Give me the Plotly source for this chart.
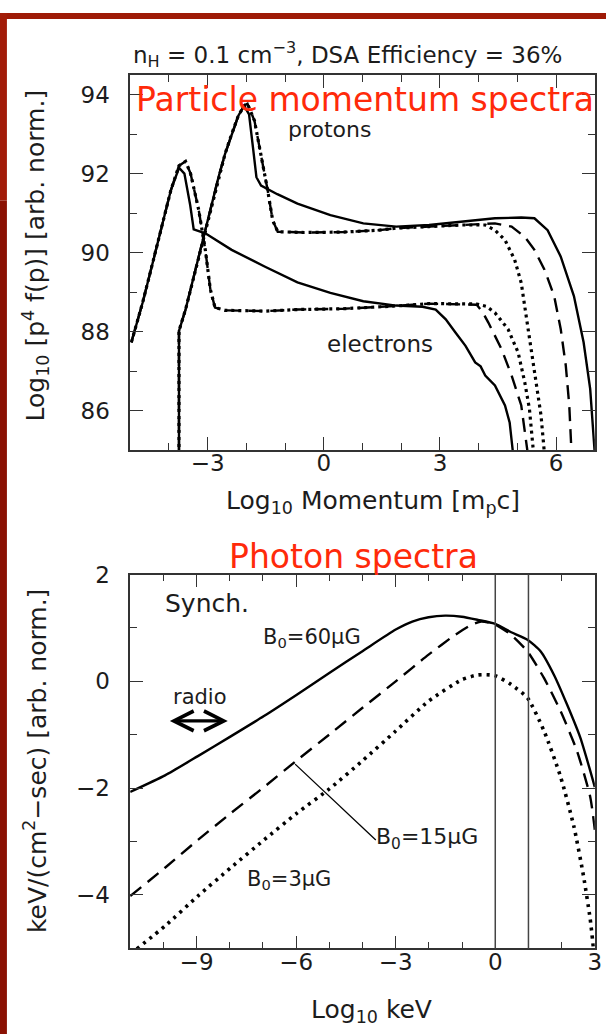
import plotly.graph_objects as go

W, H = 613, 1034
FONT = "DejaVu Sans"
INK = "#1c1c1c"
RED = "#FF2A0A"

# ---------------- particle momentum spectra ----------------
# x: log10 momentum [m_p c], y: log10 p^4 f(p) [arb. norm.]
e_solid_x = [-4.97, -4.68, -4.42, -4.17, -3.95, -3.74, -3.60, -3.45, -3.36, -3.06, -2.38,
             -1.53, -0.68, 0.17, 1.02, 1.87, 2.55, 2.89, 3.15, 3.40, 3.66, 3.91, 4.05,
             4.17, 4.42, 4.68, 4.80, 4.89]
e_solid_y = [87.73, 88.73, 89.74, 90.74, 91.58, 92.15, 92.00, 91.20, 90.59, 90.49, 90.07,
             89.65, 89.25, 88.98, 88.77, 88.66, 88.63, 88.56, 88.31, 87.98, 87.64, 87.22, 87.12,
             86.89, 86.64, 86.13, 85.70, 84.90]

e_dash_x = [-4.97, -4.68, -4.42, -4.17, -3.95, -3.74, -3.57, -3.44, -3.23, -3.06, -2.93,
            -2.81, -2.55, -1.50, -0.68, 0.50, 1.44, 1.87, 2.72, 3.57, 3.95, 4.10, 4.25,
            4.59, 4.85, 5.10, 5.27]
e_dash_y = [87.73, 88.73, 89.74, 90.74, 91.58, 92.20, 92.31, 92.00, 91.08, 90.07, 89.07,
            88.61, 88.54, 88.52, 88.56, 88.58, 88.62, 88.65, 88.71, 88.70, 88.68, 88.50, 88.23,
            87.56, 86.89, 86.13, 84.90]

e_dot_x = [-4.97, -4.68, -4.42, -4.17, -3.95, -3.74, -3.57, -3.44, -3.23, -3.06, -2.93,
           -2.81, -2.55, -1.50, -0.68, 0.50, 1.44, 1.87, 2.72, 3.57, 3.95, 4.20, 4.42,
           4.76, 5.02, 5.19, 5.31, 5.42]
e_dot_y = [87.73, 88.73, 89.74, 90.74, 91.58, 92.20, 92.31, 92.00, 91.08, 90.07, 89.07,
           88.61, 88.54, 88.52, 88.56, 88.58, 88.62, 88.65, 88.71, 88.70, 88.70, 88.64, 88.48,
           88.06, 87.47, 86.72, 86.05, 84.90]

p_solid_x = [-3.74, -3.74, -3.57, -3.40, -3.23, -3.06, -2.89, -2.72, -2.55, -2.38, -2.21,
             -2.06, -1.93, -1.83, -1.74, -1.62, -1.20, -0.68, 0.17, 1.02, 1.87, 2.72,
             3.57, 4.42, 5.10, 5.44, 5.78, 6.12, 6.46, 6.71, 6.88, 7.00]
p_solid_y = [84.90, 88.02, 88.56, 89.23, 89.90, 90.57, 91.24, 91.91, 92.50, 93.00, 93.46,
             93.72, 93.50, 92.67, 91.91, 91.70, 91.48, 91.24, 90.95, 90.74, 90.66, 90.70,
             90.78, 90.87, 90.89, 90.87, 90.57, 89.90, 88.90, 87.73, 86.55, 84.90]

p_dash_x = [-3.74, -3.74, -3.57, -3.40, -3.23, -3.06, -2.89, -2.72, -2.55, -2.38, -2.21,
            -2.06, -1.97, -1.79, -1.62, -1.45, -1.32, -1.19, -0.50, 0.50, 1.44, 1.87,
            2.72, 3.57, 4.08, 4.42, 4.85, 5.19, 5.44, 5.70, 5.95, 6.12, 6.25, 6.34, 6.40]
p_dash_y = [84.90, 88.02, 88.56, 89.23, 89.90, 90.57, 91.24, 91.91, 92.50, 93.00, 93.46,
            93.72, 93.77, 93.34, 92.50, 91.58, 90.82, 90.53, 90.51, 90.52, 90.57, 90.62,
            90.66, 90.70, 90.74, 90.74, 90.66, 90.40, 90.07, 89.57, 88.90, 88.06, 87.14, 86.13, 84.90]

p_dot_x = [-3.74, -3.74, -3.57, -3.40, -3.23, -3.06, -2.89, -2.72, -2.55, -2.38, -2.21,
           -2.06, -1.97, -1.79, -1.62, -1.45, -1.32, -1.19, -0.50, 0.50, 1.44, 1.87,
           2.72, 3.57, 4.17, 4.42, 4.68, 4.93, 5.10, 5.23, 5.36, 5.48, 5.61, 5.70]
p_dot_y = [84.90, 88.02, 88.56, 89.23, 89.90, 90.57, 91.24, 91.91, 92.50, 93.00, 93.46,
           93.72, 93.77, 93.34, 92.50, 91.58, 90.82, 90.53, 90.51, 90.52, 90.57, 90.62,
           90.66, 90.70, 90.70, 90.57, 90.32, 89.82, 89.23, 88.39, 87.56, 86.72, 85.88, 84.90]

# ---------------- synchrotron photon spectra ----------------
# x: log10 photon energy [keV], y: log10 keV/(cm^2 sec) [arb. norm.]
syn60_x = [-11.0, -9.95, -8.96, -7.97, -6.97, -5.98, -4.99, -3.99, -3.00, -2.50, -2.01,
           -1.51, -1.01, -0.52, -0.02, 0.48, 0.97, 1.37, 1.77, 2.16, 2.56, 2.86, 3.00]
syn60_y = [-2.07, -1.76, -1.40, -1.03, -0.65, -0.25, 0.16, 0.57, 0.97, 1.12, 1.20,
           1.23, 1.21, 1.15, 1.08, 0.92, 0.78, 0.56, 0.12, -0.43, -1.05, -1.67, -1.98]

syn15_x = [-11.0, -9.95, -8.96, -7.97, -6.97, -5.98, -4.99, -3.99, -3.00, -2.01, -1.21,
           -0.71, -0.42, -0.02, 0.48, 0.97, 1.47, 1.97, 2.46, 2.86, 3.00]
syn15_y = [-4.02, -3.49, -2.97, -2.47, -1.98, -1.48, -0.99, -0.49, 0.00, 0.50, 0.87,
           1.06, 1.12, 1.07, 0.87, 0.56, 0.06, -0.56, -1.30, -2.16, -2.78]

syn3_x = [-10.80, -9.95, -8.96, -7.97, -6.97, -5.98, -4.99, -3.99, -3.00, -2.01, -1.01,
          -0.52, -0.02, 0.48, 0.97, 1.47, 1.97, 2.37, 2.66, 2.86, 2.96]
syn3_y = [-5.01, -4.58, -4.02, -3.49, -2.97, -2.47, -2.01, -1.48, -0.93, -0.37, 0.03,
          0.12, 0.11, -0.06, -0.31, -0.93, -1.79, -2.72, -3.65, -4.45, -5.01]

# X-ray band edges (log10 keV)
xray_band = [0, 1]

# plot boxes in pixels
X0, X1 = 131.7, 601.7
TOP_Y0, TOP_Y1 = 62.7, 442.7
BOT_Y0, BOT_Y1 = 568.7, 947.3


def fx(p):
    return p / W


def fy(p):
    return 1 - p / H


fig = go.Figure()

SOLID = dict(color="black", width=2.4)
DASH = dict(color="black", width=2.4, dash="14px,8px")
DOT = dict(color="black", width=3.2, dash="3px,4px")

for xs, ys, ln in [(e_solid_x, e_solid_y, SOLID), (e_dash_x, e_dash_y, DASH), (e_dot_x, e_dot_y, DOT),
                   (p_solid_x, p_solid_y, SOLID), (p_dash_x, p_dash_y, DASH), (p_dot_x, p_dot_y, DOT)]:
    fig.add_trace(go.Scatter(x=xs, y=ys, mode="lines", line=ln, xaxis="x", yaxis="y",
                             hoverinfo="skip"))

for xs, ys, ln in [(syn60_x, syn60_y, SOLID), (syn15_x, syn15_y, DASH),
                   (syn3_x, syn3_y, dict(color="black", width=3.6, dash="3px,5px"))]:
    fig.add_trace(go.Scatter(x=xs, y=ys, mode="lines",
                             line=dict(ln, shape="spline", smoothing=0.6),
                             xaxis="x2", yaxis="y2", hoverinfo="skip"))

tickfont = dict(family=FONT, size=23, color=INK)


def axis(rng, dtick, domain, anchor, standoff):
    return dict(
        range=rng, domain=domain, anchor=anchor, dtick=dtick, tick0=0,
        showline=True, linecolor="#333", linewidth=1.5, mirror="allticks",
        ticks="inside", ticklen=13, tickwidth=1.3, tickcolor="#333",
        showgrid=False, zeroline=False, tickfont=tickfont, ticklabelstandoff=standoff,
        minor=dict(ticks="inside", ticklen=7, tickwidth=1.3, tickcolor="#333",
                   dtick=1, tick0=0, showgrid=False),
    )


fig.update_layout(
    width=W, height=H, margin=dict(l=0, r=0, t=0, b=0),
    paper_bgcolor="white", plot_bgcolor="white", showlegend=False,
    xaxis=axis([-5, 7], 3, [fx(X0), fx(X1)], "y", -8),
    yaxis=axis([85, 94.5], 2, [fy(TOP_Y1), fy(TOP_Y0)], "x", 14),
    xaxis2=axis([-11, 3], 3, [fx(X0), fx(X1)], "y2", -8),
    yaxis2=axis([-5, 2], 2, [fy(BOT_Y1), fy(BOT_Y0)], "x2", 14),
)

# X-ray band markers in the photon panel
for xv in xray_band:
    fig.add_shape(type="line", xref="x2", yref="y2 domain", x0=xv, x1=xv, y0=0, y1=1,
                  line=dict(color="#444", width=1.5))

# leader line to the 15 uG label
fig.add_shape(type="line", xref="x2", yref="y2", x0=-6.03, y0=-1.55, x1=-3.6, y1=-2.97,
              line=dict(color="black", width=1.3))

# slide frame (red bars)
fig.add_shape(type="rect", xref="paper", yref="paper", x0=0, x1=1, y0=fy(6), y1=1,
              line=dict(width=0), fillcolor="#9E1A06", layer="above")
fig.add_shape(type="rect", xref="paper", yref="paper", x0=0, x1=fx(7), y0=fy(190), y1=1,
              line=dict(width=0), fillcolor="#A21C08", layer="above")
fig.add_shape(type="rect", xref="paper", yref="paper", x0=0, x1=fx(7), y0=0, y1=fy(190),
              line=dict(width=0), fillcolor="#8A1103", layer="above")


def paper_text(text, px_, py_, size, color=INK, angle=0, xanchor="center"):
    fig.add_annotation(text=text, x=fx(px_), y=fy(py_), xref="paper", yref="paper",
                       showarrow=False, textangle=angle, xanchor=xanchor, yanchor="middle",
                       font=dict(family=FONT, size=size, color=color))


def data_text(text, x, y, ax_, size=21):
    fig.add_annotation(text=text, x=x, y=y, xref="x" + ax_, yref="y" + ax_, showarrow=False,
                       xanchor="center", yanchor="middle",
                       font=dict(family=FONT, size=size, color=INK))


paper_text("n<sub>H</sub> = 0.1 cm<sup>−3</sup>, DSA Efficiency = 36%", 352, 42, 23)
paper_text("Particle momentum spectra", 369, 88, 33, color=RED)
paper_text("Photon spectra", 358, 550, 33, color=RED)

paper_text("Log<sub>10</sub> [p<sup>4</sup> f(p)] [arb. norm.]", 36, 246, 25, angle=-90)
paper_text("Log<sub>10</sub> Momentum [m<sub>p</sub>c]", 377, 495, 25)
paper_text("keV/(cm<sup>2</sup>−sec) [arb. norm.]", 36, 758, 25, angle=-90)
paper_text("Log<sub>10</sub> keV", 376, 1011, 25)

data_text("protons", 0.15, 93.12, "", 22)
data_text("electrons", 1.44, 87.68, "", 23)

data_text("Synch.", -8.69, 1.46, "2", 25)
data_text("B<sub>0</sub>=60μG", -5.52, 0.81, "2", 21)
data_text("radio", -8.91, -0.30, "2", 21)
data_text("B<sub>0</sub>=15μG", -2.06, -2.94, "2", 22)
data_text("B<sub>0</sub>=3μG", -6.23, -3.71, "2", 21)

# radio band double arrow
fig.add_annotation(x=-8.06, y=-0.74, ax=-9.85, ay=-0.74, xref="x2", yref="y2",
                   axref="x2", ayref="y2", text="", showarrow=True, arrowhead=5,
                   startarrowhead=5, arrowside="end+start", arrowwidth=3.2, arrowsize=1.2,
                   startarrowsize=1.2, arrowcolor="black")

fig.write_html("out.html")
